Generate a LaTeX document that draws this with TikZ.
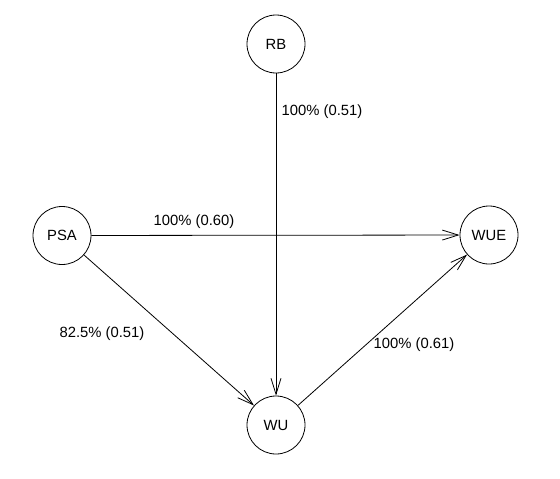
\documentclass[tikz,border=0pt]{standalone}
\usepackage{fontspec}
\setmainfont{Liberation Sans}
\usetikzlibrary{arrows.meta}
\begin{document}
\begin{tikzpicture}[x=1pt,y=-1pt,
  vnode/.style={circle,draw,line width=0.8pt,minimum size=58pt,inner sep=0pt,font=\fontsize{14.8}{17}\selectfont},
  edge/.style={line width=0.8pt,-{Straight Barb[length=16pt,width=10pt,line width=0.8pt]}},
  elabel/.style={font=\fontsize{14.8}{17}\selectfont,inner sep=0pt}]
\useasboundingbox (0,0) rectangle (560,479);
\node[vnode] (RB) at (276,44) {RB};
\node[vnode] (PSA) at (62,235.5) {PSA};
\node[vnode] (WUE) at (489,235) {WUE};
\node[vnode] (WU) at (276,425) {WU};
\draw[edge] (RB) -- (WU);
\draw[edge] (PSA) -- (WUE);
\draw[edge] (PSA) -- (WU);
\draw[edge] (WU) -- (WUE);
\node[elabel] (l1) at (322,112) {100\% (0.51)};
\node[elabel] (l2) at (194,222) {100\% (0.60)};
\node[elabel] (l3) at (102,334) {82.5\% (0.51)};
\node[elabel] (l4) at (414,345) {100\% (0.61)};
\end{tikzpicture}
\end{document}
